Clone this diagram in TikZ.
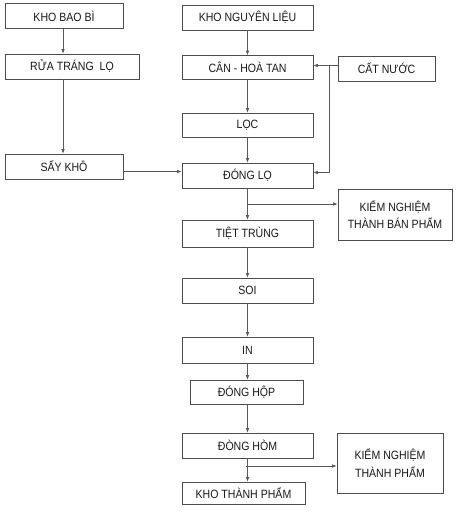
\documentclass[tikz,border=0pt]{standalone}
\usepackage{fontspec}
\setmainfont[FakeStretch=0.88]{Liberation Sans}
\usetikzlibrary{arrows.meta,positioning,calc}

\begin{document}
\begin{tikzpicture}[x=1pt,y=-1pt,
  box/.style = {shape=rectangle, draw=black!70, line width=0.6pt,
    align=center, inner sep=0pt, minimum height=25pt,
    text=black!90, font=\fontsize{12}{17.5}\selectfont},
  arr/.style = {draw=black!65, line width=0.6pt,
    -{Latex[length=4.5pt,width=3.5pt]}}]
  \useasboundingbox (0,0) rectangle (457,512);
  % left column
  \node[box, minimum width=118pt] (khobaobi) at (64,16) {KHO BAO BÌ};
  \node[box, minimum width=134pt] (rualo) at (72,66.5) {RỬA TRÁNG\ \ LỌ};
  \node[box, minimum width=118pt] (saykho) at (64,166.5) {SẤY KHÔ};
  % main column
  \node[box, minimum width=131pt] (khonl) at (247.5,17.5) {KHO NGUYÊN LIỆU};
  \node[box, minimum width=131pt, minimum height=24pt] (canhoa) at (247.5,67.5) {CÂN - HOÀ TAN};
  \node[box, minimum width=131pt, minimum height=24pt] (loc) at (247.5,125) {LỌC};
  \node[box, minimum width=131pt] (donglo) at (247.5,175.5) {ĐÓNG LỌ};
  \node[box, minimum width=131pt, minimum height=27pt] (tiettrung) at (247.5,233.5) {TIỆT TRÙNG};
  \node[box, minimum width=131pt] (soi) at (247.5,290.5) {SOI};
  \node[box, minimum width=131pt, minimum height=26pt] (in) at (247.5,350) {IN};
  \node[box, minimum width=113pt, minimum height=24pt] (donghop) at (246.5,392) {ĐÓNG HỘP};
  \node[box, minimum width=131pt] (donghom) at (247.5,445.5) {ĐÒNG HÒM};
  \node[box, minimum width=123pt, minimum height=22pt] (khotp) at (243.5,493) {KHO THÀNH PHẨM};
  % right column
  \node[box, minimum width=97pt] (catnuoc) at (386.5,68.5) {CẤT NƯỚC};
  \node[box, minimum width=114pt, minimum height=51pt] (kntbp) at (395,214.5) {KIỂM NGHIỆM\\THÀNH BÁN PHẨM};
  \node[box, minimum width=106pt, minimum height=60pt] (kntp) at (390,463) {KIỂM NGHIỆM\\THÀNH PHẨM};
  % connectors
  \draw[arr] (khobaobi.south -| 63,0) -- (rualo.north -| 63,0);
  \draw[arr] (rualo.south -| 63,0) -- (saykho.north -| 63,0);
  \draw[arr] ([yshift=-5pt]saykho.east) -- ([yshift=-5pt]saykho.east -| donglo.west);
  \draw[arr] (khonl) -- (canhoa);
  \draw[arr] (canhoa) -- (loc);
  \draw[arr] (loc) -- (donglo);
  \draw[arr] (donglo) -- (tiettrung);
  \draw[arr] (tiettrung) -- (soi);
  \draw[arr] (soi) -- (in);
  \draw[arr] (in.south) -- (in.south |- donghop.north);
  \draw[arr] (donghop.south -| in.south) -- (donghom.north);
  \draw[arr] (donghom.south) -- (donghom.south |- khotp.north);
  \draw[arr] ([yshift=3pt]catnuoc.west) -- ([yshift=3pt]catnuoc.west -| canhoa.east);
  \coordinate (renhanh) at ([xshift=-8pt,yshift=3pt]catnuoc.west);
  \draw[arr] (renhanh) |- ([yshift=3pt]donglo.east);
  \coordinate (nhanh1) at ($(donglo.south)!0.5!(tiettrung.north)$);
  \draw[arr] (nhanh1) -- (nhanh1 -| kntbp.west);
  \coordinate (nhanh2) at ([yshift=4pt]$(donghom.south)!0.5!(khotp.north)$);
  \draw[arr] (nhanh2) -- (nhanh2 -| kntp.west);
\end{tikzpicture}
\end{document}
